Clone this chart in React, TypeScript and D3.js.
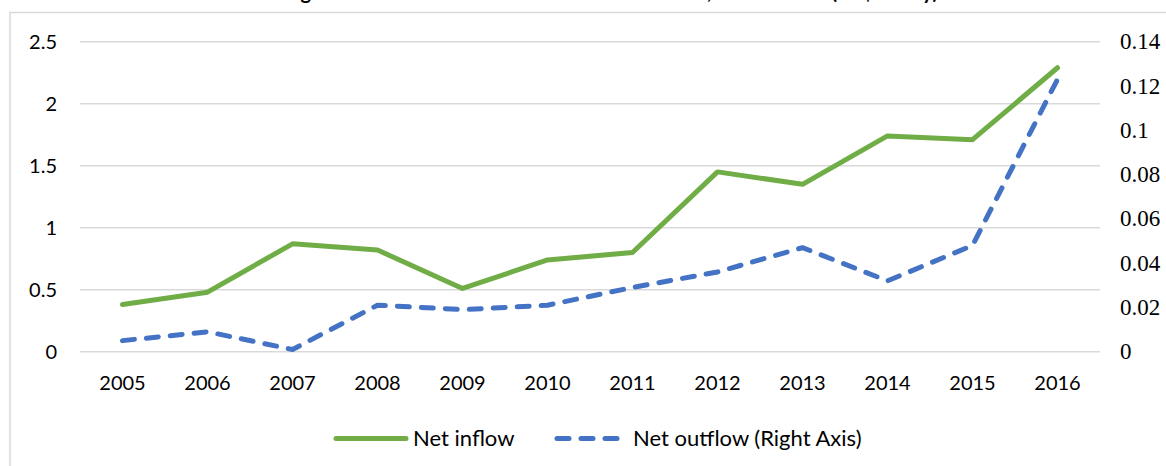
import React from "react";
import * as d3 from "d3";

const years = ["2005","2006","2007","2008","2009","2010","2011","2012","2013","2014","2015","2016"];
const netInflow = [0.38,0.48,0.87,0.82,0.51,0.74,0.80,1.45,1.35,1.74,1.71,2.29];
const netOutflow = [0.005,0.009,0.001,0.021,0.019,0.021,0.029,0.036,0.047,0.032,0.048,0.123];
const leftTicks = [0,0.5,1,1.5,2,2.5];
const rightTicks = [0,0.02,0.04,0.06,0.08,0.1,0.12,0.14];
const titleText = "Foreign Direct Investment: Net Inflow and Outflow, 2005 - 2016 (US$ Yearly)";
const seriesNames = ["Net inflow","Net outflow (Right Axis)"];

const W = 1166, H = 466;
const GREEN = "#70AD47", BLUE = "#4472C4";
const SANS = "Lato, 'Open Sans', sans-serif";
const SERIF = "'Liberation Serif', 'Times New Roman', serif";

export default function App() {
  const x = d3.scaleBand().domain(years).range([80,1100]);
  const yL = d3.scaleLinear().domain([0,2.5]).range([351.7,41.7]);
  const yR = d3.scaleLinear().domain([0,0.14]).range([351.7,41.7]);
  const cx = (d: string) => (x(d) as number) + x.bandwidth()/2;
  const lineL = d3.line<number>().x((_, i) => cx(years[i])).y(v => yL(v));
  const lineR = d3.line<number>().x((_, i) => cx(years[i])).y(v => yR(v));
  return (
    <svg width={W} height={H} style={{position:"absolute", left:0, top:0, background:"#fff"}}>
      <rect x={10} y={12.5} width={1300} height={600} fill="#fff" stroke="#d9d9d9" strokeWidth={1.5}/>
      <text x={938} y={-1} textAnchor="end" style={{fontFamily: SANS}} fontWeight="bold" fontSize={20} fill="#000">{titleText}</text>
      {leftTicks.map(t => (
        <g key={"l"+t}>
          <line x1={80} x2={1100} y1={yL(t)} y2={yL(t)} stroke="#d9d9d9" strokeWidth={1.5}/>
          <text x={57} y={yL(t)} dy="0.36em" textAnchor="end" style={{fontFamily: SANS}} fontSize={20} fill="#000">{t}</text>
        </g>
      ))}
      {rightTicks.map(t => (
        <text key={"r"+t} x={1120} y={yR(t)} dy="0.33em" textAnchor="start" style={{fontFamily: SERIF}} fontSize={23} fill="#000">{t}</text>
      ))}
      {years.map(y => (
        <text key={y} x={cx(y)} y={383} dy="0.36em" textAnchor="middle" style={{fontFamily: SANS}} fontSize={20} fill="#000">{y}</text>
      ))}
      <path d={lineL(netInflow) as string} fill="none" stroke={GREEN} strokeWidth={5} strokeLinejoin="round" strokeLinecap="round"/>
      <path d={lineR(netOutflow) as string} fill="none" stroke={BLUE} strokeWidth={5} strokeLinejoin="round" strokeLinecap="round" strokeDasharray="12 12"/>
      <line x1={336} x2={406} y1={438.5} y2={438.5} stroke={GREEN} strokeWidth={5} strokeLinecap="round"/>
      <text x={413} y={438.5} dy="0.36em" style={{fontFamily: SANS}} fontSize={22} fill="#000">{seriesNames[0]}</text>
      <line x1={557} x2={620} y1={438.5} y2={438.5} stroke={BLUE} strokeWidth={5} strokeLinecap="round" strokeDasharray="12 12"/>
      <text x={633} y={438.5} dy="0.36em" style={{fontFamily: SANS}} fontSize={22} fill="#000">{seriesNames[1]}</text>
    </svg>
  );
}
